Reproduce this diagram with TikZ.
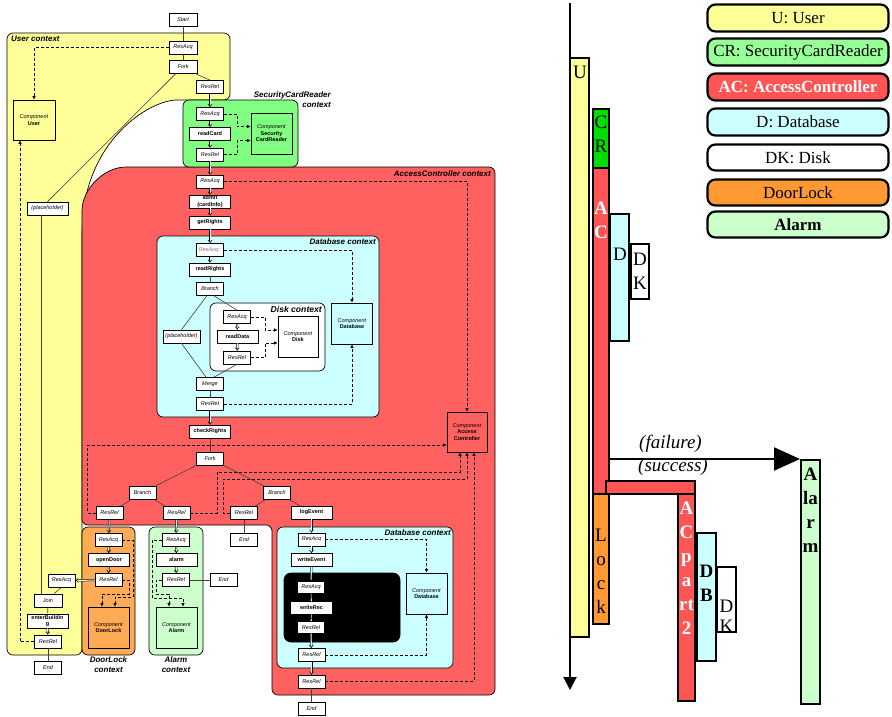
\documentclass[tikz,border=0pt]{standalone}
\usepackage{fontspec}
\setmainfont{Liberation Serif}
\setsansfont{Liberation Sans}
\usetikzlibrary{arrows.meta,calc}

\definecolor{userfill}{HTML}{FFFF99}
\definecolor{cardfill}{HTML}{80FF80}
\definecolor{accfill}{HTML}{FF6060}
\definecolor{dbfill}{HTML}{CCFFFF}
\definecolor{lockfill}{HTML}{FFAA55}
\definecolor{alarmfill}{HTML}{CCFFCC}
\definecolor{cardbar}{HTML}{00DD00}
\definecolor{acbar}{HTML}{FF5555}
\definecolor{lockbar}{HTML}{FF9933}
\definecolor{cardkey}{HTML}{99FF99}

\newcommand\tinysf{\fontsize{5.5}{6.5}\selectfont\sffamily}
\newcommand\ctxfont{\fontsize{8}{10}\selectfont\sffamily\bfseries\itshape}
\newcommand\barfont{\fontsize{19}{24}\selectfont}

\tikzset{
  box/.style={draw, fill=white, line width=0.7pt, inner sep=0.5pt, minimum height=13pt, align=center},
  res/.style={box, minimum width=27pt, font=\tinysf\itshape},
  act/.style={box, minimum width=41pt, font=\tinysf\bfseries},
  comp/.style={draw, line width=0.7pt, minimum width=41pt, minimum height=41pt, inner sep=1pt, align=center, font=\tinysf},
  ctx/.style={draw, line width=0.7pt, rounded corners=6pt},
  ctxlabel/.style={font=\ctxfont, inner sep=0pt},
  link/.style={line width=0.6pt, black!75},
  flow/.style={double, double distance=1pt, line width=0.5pt, -{Implies}},
  ctrl/.style={densely dashed, line width=0.6pt, -{Latex[length=3.5pt,width=3.5pt]}},
  bar/.style={draw, line width=2pt},
  barlabel/.style={inner sep=0pt, align=center, anchor=base, font=\barfont},
  keybox/.style={draw, line width=2.2pt, rounded corners=8pt, minimum width=181pt, minimum height=27pt, inner sep=0pt, font=\fontsize{17}{20}\selectfont},
}

\begin{document}
\begin{tikzpicture}[x=1pt,y=-1pt]
\useasboundingbox (0,0) rectangle (892,716);

% contexts
\draw[ctx, fill=userfill] (183,100) .. controls (150,100) and (84,140) .. (82,235) -- (82,655) -- (7,655) -- (7,33) -- (230,33) -- (230,100) -- cycle;
\draw[ctx, fill=accfill] (82,217) .. controls (82,189) and (104,167) .. (132,167) -- (495,167) -- (495,695) -- (272,695) -- (272,525) -- (82,525) -- cycle;
\draw[ctx, fill=cardfill] (183,100) rectangle (298,167);
\draw[ctx, fill=dbfill] (157,236) rectangle (379,417);
\draw[ctx, fill=white] (210,303) rectangle (325,371);
\draw[ctx, fill=lockfill] (82,527) rectangle (135,655);
\draw[ctx, fill=alarmfill] (149,527) rectangle (203,655);
\draw[ctx, fill=dbfill] (277,527) rectangle (453,668);
\draw[ctx, fill=black, rounded corners=7pt] (284,573) rectangle (400,642);

\node[ctxlabel, anchor=west] (userctx) at (11,39) {User context};
\node[ctxlabel, anchor=east, align=right] (cardctx) at (331,100) {SecurityCardReader\\context};
\node[ctxlabel, anchor=east] (accctx) at (491,174) {AccessController context};
\node[ctxlabel, anchor=east] (dbctx) at (376,242) {Database context};
\node[ctxlabel, anchor=east, font=\fontsize{8.6}{10}\selectfont\sffamily\bfseries\itshape] (diskctx) at (322,309) {Disk context};
\node[ctxlabel, anchor=east] (logctx) at (451,533) {Database context};
\node[ctxlabel, align=center] (lockctx) at (108.5,665) {DoorLock\\context};
\node[ctxlabel, align=center] (alarmctx) at (176,665) {Alarm\\context};

% user
\node[res, minimum width=28pt] (start) at (183,19.5) {Start};
\node[res, minimum width=28pt] (uacq) at (183,47.5) {ResAcq};
\node[res, minimum width=28pt] (ufork) at (183,66.5) {Fork};
\node[res] (urel) at (210,87) {ResRel};
\node[comp, fill=userfill, minimum width=42pt, minimum height=40pt] (ucomp) at (34,120) {\textit{Component}\\\textbf{User}};
\node[res, minimum width=41pt] (uph) at (47.5,208.5) {(placeholder)};
\node[res] (uacq2) at (61.5,580.5) {ResAcq};
\node[res, minimum width=28pt] (ujoin) at (48,600.5) {Join};
\node[act, minimum height=14pt] (enter) at (47.5,621) {enterBuildin\\g};
\node[res] (urel2) at (48,641.5) {ResRel};
\node[res] (uend) at (48,668) {End};

% card reader
\node[res] (cacq) at (210,114) {ResAcq};
\node[act] (readcard) at (210,134) {readCard};
\node[res] (crel) at (210,154.5) {ResRel};
\node[comp, fill=cardfill] (ccomp) at (271.5,133.5) {\textit{Component}\\\textbf{Security}\\\textbf{CardReader}};

% access controller
\node[res] (aacq) at (210,181.5) {ResAcq};
\node[act] (admit) at (210,201.5) {admit\\(cardInfo)};
\node[act] (getrights) at (210,222.5) {getRights};
\node[res, text=black!55] (dacq) at (210,250) {ResAcq::};
\node[act] (readrights) at (210,269.5) {readRights};
\node[res] (dbranch) at (210,289) {Branch};
\node[res, minimum width=37pt] (dph) at (181.5,336.5) {(placeholder)};
\node[res] (kacq) at (237,317) {ResAcq};
\node[act] (readdata) at (237.5,336.5) {readData};
\node[res] (krel) at (237,357.5) {ResRel};
\node[comp, fill=white, minimum width=40pt] (kcomp) at (298,336.5) {\textit{Component}\\\textbf{Disk}};
\node[comp, fill=dbfill] (dcomp) at (352,323.5) {\textit{Component}\\\textbf{Database}};
\node[res] (dmerge) at (210,384) {Merge};
\node[res] (drel) at (210,404) {ResRel};
\node[act] (checkrights) at (210,431.5) {checkRights};
\node[comp, fill=accfill, minimum width=40pt, minimum height=40pt] (acomp) at (467,432) {\textit{Component}\\\textbf{Access}\\\textbf{Controller}};
\node[res] (afork) at (210,458.5) {Fork};
\node[res] (abr1) at (142.5,492.5) {Branch};
\node[res] (abr2) at (277,492.5) {Branch};
\node[res] (arel1) at (109.5,513) {ResRel};
\node[res] (arel2) at (176.5,513) {ResRel};
\node[res] (arel3) at (244,513) {ResRel};
\node[res] (aend1) at (244,539.5) {End};
\node[act] (logevent) at (311.5,512.5) {logEvent};

% door lock
\node[res] (lacq) at (108.5,540) {ResAcq};
\node[act] (opendoor) at (109,560) {openDoor};
\node[res] (lrel) at (108.5,580) {ResRel};
\node[comp, fill=lockfill] (lcomp) at (108.5,627.5) {\textit{Component}\\\textbf{DoorLock}};

% alarm
\node[res] (alacq) at (176,540) {ResAcq};
\node[act] (alarm) at (176.5,560) {alarm};
\node[res] (alrel) at (176,580) {ResRel};
\node[res] (alend) at (223.5,580) {End};
\node[comp, fill=alarmfill] (alcomp) at (176.5,627.5) {\textit{Component}\\\textbf{Alarm}};

% log event
\node[res] (eacq) at (311.5,539.5) {ResAcq};
\node[act] (writeevent) at (311.5,560) {writeEvent};
\node[res, draw=none, minimum width=26pt, minimum height=11pt] (wacq) at (311,587.5) {ResAcq};
\node[act, draw=none, minimum height=12pt] (writerec) at (311.5,608) {writeRec};
\node[res, draw=none, minimum width=26pt, minimum height=11pt] (wrel) at (311,627.5) {ResRel};
\node[res] (erel) at (311.5,655) {ResRel};
\node[comp, fill=dbfill] (ecomp) at (426.5,593.5) {\textit{Component}\\\textbf{Database}};
\node[res] (arel4) at (311.5,681.5) {ResRel};
\node[res] (aend2) at (311.5,708.5) {End};

% control flow
\draw[link] (start) -- (uacq);
\draw[link] (uacq) -- (ufork);
\draw[link] (ufork.-30) -- (urel.north);
\draw[link] ([xshift=-7pt]ufork.south) -- (uph.north);
\draw[link] ([xshift=-6.5pt]uph.south) -- ([xshift=-7pt]ujoin.north);
\draw[link] (uacq2.south) -- ([xshift=6pt]ujoin.north);
\draw[link] (ujoin) -- (enter);
\draw[flow] (enter) -- (urel2);
\draw[link] (urel2) -- (uend);
\draw[flow] (urel) -- (cacq);
\draw[flow] (cacq) -- (readcard);
\draw[flow] (readcard) -- (crel);
\draw[flow] (crel) -- (aacq);
\draw[flow] (aacq) -- (admit);
\draw[flow] (admit) -- (getrights);
\draw[flow] (getrights) -- (dacq);
\draw[flow] (dacq) -- (readrights);
\draw[link] (readrights) -- (dbranch);
\draw[link] (dbranch.-115) -- (dph.north);
\draw[link] (dbranch.-60) -- (kacq.north);
\draw[flow] (kacq) -- (readdata);
\draw[flow] (readdata) -- (krel);
\draw[link] (dph.south) -- (dmerge.120);
\draw[link] (krel.south) -- (dmerge.60);
\draw[link] (dmerge) -- (drel);
\draw[flow] (drel) -- (checkrights);
\draw[link] (checkrights) -- (afork);
\draw[link] (afork) -- (abr1);
\draw[link] (afork) -- (abr2);
\draw[link] (abr1) -- (arel1);
\draw[link] (abr1) -- (arel2);
\draw[link] (abr2) -- (arel3);
\draw[link] (abr2) -- (logevent);
\draw[link] (arel3) -- (aend1);
\draw[flow] (arel1) -- (lacq);
\draw[flow] (lacq) -- (opendoor);
\draw[flow] (opendoor) -- (lrel);
\draw[flow] (lrel) -- (uacq2);
\draw[flow] (arel2) -- (alacq);
\draw[flow] (alacq) -- (alarm);
\draw[flow] (alarm) -- (alrel);
\draw[link] (alrel) -- (alend);
\draw[flow] (logevent) -- (eacq);
\draw[flow] (eacq) -- (writeevent);
\draw[flow] (writeevent) -- (wacq);
\draw[white, line width=0.5pt, -{Latex[length=2pt,width=2pt]}] (wacq) -- (writerec);
\draw[white, line width=0.5pt, -{Latex[length=2pt,width=2pt]}] (writerec) -- (wrel);
\draw[flow] (wrel) -- (erel);
\draw[flow] (erel) -- (arel4);
\draw[link] (arel4) -- (aend2);

% resource use
\draw[ctrl] (uacq.west) -| (ucomp.north);
\draw[ctrl] (urel2.west) -| ([xshift=-14pt]ucomp.south);
\draw[ctrl] (cacq.east) -- ++(13,0) |- ($(ccomp.west)+(0,-7)$);
\draw[ctrl] (crel.east) -- ++(13,0) |- ($(ccomp.west)+(0,7)$);
\draw[ctrl] (aacq.east) -| (acomp.north);
\draw[ctrl] (dacq.east) -| (dcomp.north);
\draw[ctrl] (drel.east) -| (dcomp.south);
\draw[ctrl] (kacq.east) -- ++(14,0) |- ($(kcomp.west)+(0,-6.5)$);
\draw[ctrl] (krel.east) -- ++(14,0) |- ($(kcomp.west)+(0,6.5)$);
\draw[ctrl] (arel1.west) -- ++(-8,0) |- ($(acomp.west)+(0,13)$);
\draw[ctrl] (arel2.east) -- ++(27,0) -- ++(0,-41) -| ($(acomp.south)+(-7,0)$);
\draw[ctrl] (arel3.west) -- ++(-7,0) -- ++(0,-34) -| (acomp.south);
\draw[ctrl] (arel4.east) -| ($(acomp.south)+(7,0)$);
\draw[ctrl] (eacq.east) -| (ecomp.north);
\draw[ctrl] (erel.east) -| (ecomp.south);
\draw[ctrl] (lacq.east) -- ++(11,0) -- ++(0,57) -| ($(lcomp.north)+(6.5,0)$);
\draw[ctrl] (lrel.east) -- ++(7,0) -- ++(0,14) -| ($(lcomp.north)+(-6.5,0)$);
\draw[ctrl] (alacq.west) -- ++(-10,0) -- ++(0,58) -| ($(alcomp.north)+(6.5,0)$);
\draw[ctrl] (alrel.west) -- ++(-6,0) -- ++(0,14) -| ($(alcomp.north)+(-7.5,0)$);

% time line
\draw[line width=2pt, -{Triangle[length=13pt,width=13pt]}] (570,3) -- (570,690);
\draw[bar, fill=userfill] (570,58) rectangle (589,637);
\draw[bar, fill=cardbar] (593,109) rectangle (609,168);
\draw[bar, fill=acbar] (593,168) rectangle (609,494);
\draw[bar, fill=dbfill] (610,214) rectangle (629,341);
\draw[bar, fill=white] (631,244) rectangle (649,299);
\draw[bar, fill=acbar] (606,481) rectangle (695,494);
\draw[bar, fill=lockbar] (593,494) rectangle (609,624);
\draw[bar, fill=acbar] (678,494) rectangle (695,701);
\draw[bar, fill=dbfill] (697,533) rectangle (716,661);
\draw[bar, fill=white] (717,567) rectangle (736,632);
\draw[bar, fill=alarmfill] (801,460) rectangle (820,704);

% multi-line labels sit on their last baseline
\node[barlabel] (ulabel) at (580,78) {U};
\node[barlabel] (crlabel) at (601,152) {C\\R};
\node[barlabel, text=white, font=\barfont\bfseries] (aclabel) at (601,238) {A\\C};
\node[barlabel] (dlabel) at (620,260) {D};
\node[barlabel] (dklabel) at (640,289) {D\\K};
\node[barlabel] (locklabel) at (601,613) {L\\o\\c\\k};
\node[barlabel, text=white, font=\barfont\bfseries] (ac2label) at (686.5,634) {A\\C\\p\\a\\rt\\2};
\node[barlabel, font=\barfont\bfseries] (dblabel) at (706.5,601) {D\\B};
\node[barlabel, font=\fontsize{19}{20}\selectfont] (dk2label) at (726.5,632) {D\\K};
\node[barlabel, font=\barfont\bfseries] (alarmlabel) at (810.5,552) {A\\la\\r\\m};

\coordinate (fail) at (610,459);
\coordinate (alarmin) at (800,459);
\draw[line width=2.2pt, -{Triangle[length=26pt,width=23pt]}] (fail) -- (alarmin);
\node[anchor=base, inner sep=0pt, font=\barfont\itshape] (failure) at (670.5,448) {(failure)};
\node[anchor=base, inner sep=0pt, font=\barfont\itshape] (success) at (673,471.5) {(success)};

% key
\node[keybox, fill=userfill] (kuser) at (798,18) {U: User};
\node[keybox, fill=cardkey] (kcard) at (798,52) {CR: SecurityCardReader};
\node[keybox, fill=acbar, text=white, font=\fontsize{17}{20}\selectfont\bfseries] (kacc) at (798,87) {AC: AccessController};
\node[keybox, fill=dbfill] (kdb) at (798,122) {D: Database};
\node[keybox, fill=white, minimum height=26pt] (kdisk) at (798,157.5) {DK: Disk};
\node[keybox, fill=lockbar, minimum height=26pt] (klock) at (798,192.5) {DoorLock};
\node[keybox, fill=alarmfill, minimum height=26pt, font=\fontsize{17}{20}\selectfont\bfseries] (kalarm) at (798,224.5) {Alarm};
\end{tikzpicture}
\end{document}
